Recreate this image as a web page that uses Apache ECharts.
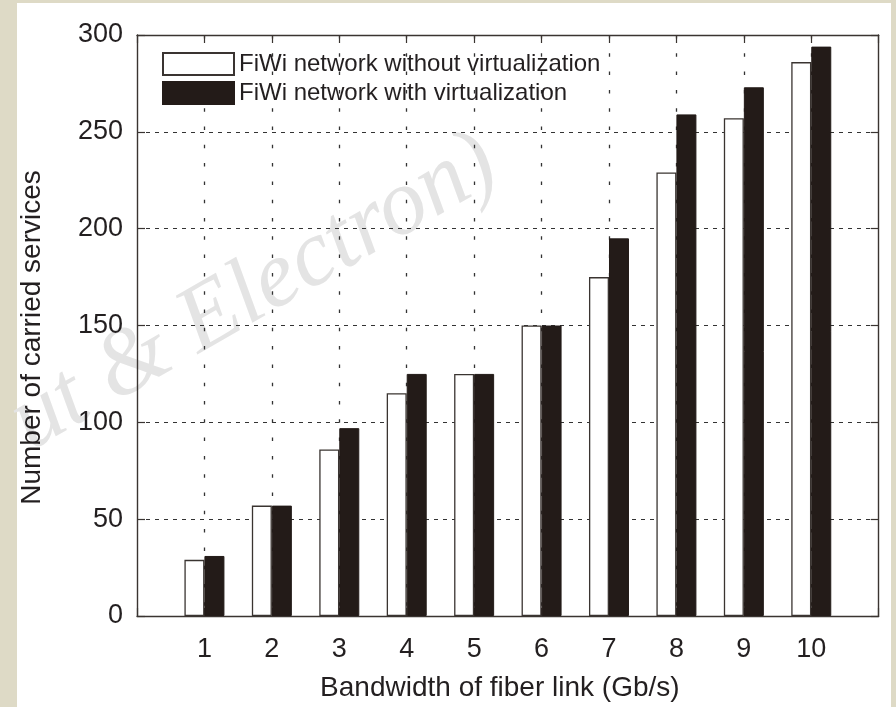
<!DOCTYPE html>
<html>
<head>
<meta charset="utf-8">
<script src="https://cdn.jsdelivr.net/npm/echarts@6/dist/echarts.min.js"></script>
<style>
  html, body { margin: 0; padding: 0; background: #dedac6; }
  #panel { position: absolute; left: 17px; top: 3px; width: 874px; height: 704px; background: #ffffff; }
  #chart { position: absolute; left: 0; top: 0; width: 896px; height: 707px; }
</style>
</head>
<body>
<div id="panel"></div>
<div id="chart"></div>
<script>
// ---- data ----
const categories = [1, 2, 3, 4, 5, 6, 7, 8, 9, 10];
const xTickLabels = ['1', '2', '3', '4', '5', '6', '7', '8', '9', '10'];
const withoutVirtualization = [29, 57, 86, 115, 125, 150, 175, 229, 257, 286];
const withVirtualization = [31, 57, 97, 125, 125, 150, 195, 259, 273, 294];
const seriesNames = ['FiWi network without virtualization', 'FiWi network with virtualization'];
const xName = 'Bandwidth of fiber link (Gb/s)';
const yName = 'Number of carried services';
const watermarkText = 'ut & Electron)';

const frameColor = '#3a3431';
const textColor = '#231f20';
const font = '"Liberation Sans", Arial, sans-serif';

const chart = echarts.init(document.getElementById('chart'), null, { renderer: 'canvas' });

function pairs(vals) { return categories.map((c, i) => [c, vals[i]]); }

const option = {
  backgroundColor: 'transparent',
  animation: false,
  textStyle: { fontFamily: font },
  grid: { left: 137, right: 17.3, top: 35, bottom: 88, containLabel: false },
  legend: {
    orient: 'vertical', left: 162, top: 52, padding: 0, itemGap: 5,
    itemWidth: 71, itemHeight: 22, icon: 'rect',
    textStyle: { fontSize: 24, color: textColor, fontFamily: font },
    data: seriesNames
  },
  xAxis: [
    {
      type: 'value', min: 0, max: 11, interval: 1, position: 'bottom',
      name: xName, nameLocation: 'middle', nameGap: 58,
      nameTextStyle: { fontSize: 28, color: textColor, padding: [0, 16, 0, 0] },
      axisLine: { show: true, onZero: false, lineStyle: { color: frameColor, width: 1.4 } },
      axisTick: { show: true, inside: true, length: 8, lineStyle: { color: frameColor, width: 1.2 } },
      axisLabel: {
        fontSize: 27, color: textColor, margin: 20,
        formatter: v => { const i = categories.indexOf(v); return i >= 0 ? xTickLabels[i] : ''; }
      },
      splitLine: { show: true, showMinLine: false, showMaxLine: false,
        lineStyle: { color: '#333333', width: 1.3, type: [3.5, 14.8] } }
    },
    {
      type: 'value', min: 0, max: 11, interval: 1, position: 'top',
      axisLine: { show: true, onZero: false, lineStyle: { color: frameColor, width: 1.4 } },
      axisTick: { show: true, inside: true, length: 8, lineStyle: { color: frameColor, width: 1.2 } },
      axisLabel: { show: false }, splitLine: { show: false }
    }
  ],
  yAxis: [
    {
      type: 'value', min: 0, max: 300, interval: 50, position: 'left',
      name: yName, nameLocation: 'middle', nameGap: 91,
      nameTextStyle: { fontSize: 28, color: textColor, padding: [0, 24, 0, 0] },
      axisLine: { show: true, onZero: false, lineStyle: { color: frameColor, width: 1.4 } },
      axisTick: { show: true, inside: true, length: 8, lineStyle: { color: frameColor, width: 1.2 } },
      axisLabel: { fontSize: 27, color: textColor, margin: 14, padding: [5, 0, 0, 0] },
      splitLine: { show: true, showMinLine: false, showMaxLine: false,
        lineStyle: { color: '#333333', width: 1.2, type: [4, 5] } }
    },
    {
      type: 'value', min: 0, max: 300, interval: 50, position: 'right',
      axisLine: { show: true, onZero: false, lineStyle: { color: frameColor, width: 1.4 } },
      axisTick: { show: true, inside: true, length: 8, lineStyle: { color: frameColor, width: 1.2 } },
      axisLabel: { show: false }, splitLine: { show: false }
    }
  ],
  series: [
    {
      name: seriesNames[0], type: 'bar', xAxisIndex: 0, yAxisIndex: 0,
      barWidth: 20, barGap: '0%',
      itemStyle: { color: '#ffffff', borderColor: frameColor, borderWidth: 1.3 },
      data: pairs(withoutVirtualization)
    },
    {
      name: seriesNames[1], type: 'bar', xAxisIndex: 0, yAxisIndex: 0,
      barWidth: 20, barGap: '0%',
      itemStyle: { color: '#231b18', borderColor: '#231b18', borderWidth: 1 },
      data: pairs(withVirtualization)
    }
  ],
  graphic: [
    {
      type: 'text', x: 42, y: 470, rotation: Math.PI / 6, z: -10, silent: true,
      style: {
        text: watermarkText, font: 'italic 94px "Liberation Serif", "Times New Roman", serif',
        fill: '#e4e4e4', textAlign: 'left', textVerticalAlign: 'bottom'
      }
    }
  ]
};
chart.setOption(option);
</script>
</body>
</html>
